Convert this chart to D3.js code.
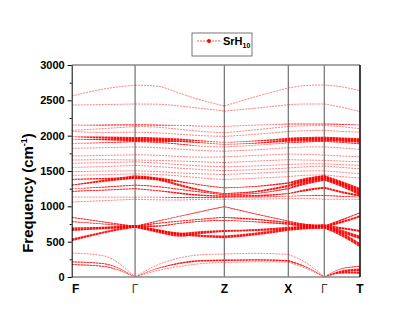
<!DOCTYPE html>
<html>
<head>
<meta charset="utf-8">
<script src="https://cdn.jsdelivr.net/npm/d3@7"></script>
<style>
  body { margin: 0; background: #fff; }
  text { font-family: Arial, 'Liberation Sans', sans-serif; }
</style>
</head>
<body>
<div id="chart"></div>
<script>
// high-symmetry path
const kLabels = ['F', 'Γ', 'Z', 'X', 'Γ', 'T'];
const kPositions = [0, 0.634, 1.527, 2.167, 2.527, 2.884];
const kSamples = [0, 0.317, 0.634, 0.857, 1.08, 1.304, 1.527, 1.847, 2.167, 2.347, 2.527, 2.706, 2.884];

const yTicks = [0, 500, 1000, 1500, 2000, 2500, 3000];
const yMinorTicks = [250, 750, 1250, 1750, 2250, 2750];

// phonon branches (cm-1), one row per branch, at kSamples
const bandFreqs = [
  [2560, 2660, 2715, 2700, 2600, 2500, 2420, 2555, 2675, 2710, 2717, 2690, 2636],
  [2434, 2440, 2448, 2445, 2420, 2385, 2349, 2390, 2438, 2448, 2448, 2400, 2340],
  [2150, 2150, 2152, 2150, 2145, 2135, 2130, 2150, 2165, 2165, 2165, 2160, 2150],
  [2075, 2100, 2130, 2120, 2090, 2060, 2040, 2085, 2130, 2140, 2145, 2125, 2100],
  [2060, 2045, 2050, 2040, 2020, 2000, 1990, 2020, 2060, 2070, 2075, 2060, 2050],
  [1985, 1975, 1960, 1955, 1945, 1925, 1905, 1925, 1955, 1962, 1965, 1955, 1945],
  [1950, 1945, 1938, 1930, 1920, 1900, 1875, 1895, 1930, 1940, 1945, 1935, 1920],
  [1891, 1900, 1915, 1905, 1880, 1850, 1840, 1865, 1900, 1912, 1920, 1905, 1885],
  [1821, 1830, 1840, 1830, 1810, 1790, 1780, 1800, 1830, 1840, 1842, 1825, 1805],
  [1712, 1720, 1730, 1722, 1705, 1695, 1700, 1720, 1740, 1735, 1725, 1712, 1700],
  [1655, 1660, 1655, 1650, 1640, 1630, 1620, 1640, 1660, 1655, 1650, 1640, 1630],
  [1609, 1618, 1630, 1612, 1590, 1570, 1560, 1572, 1592, 1600, 1602, 1590, 1580],
  [1552, 1562, 1580, 1562, 1540, 1520, 1505, 1520, 1542, 1560, 1570, 1550, 1530],
  [1490, 1498, 1502, 1492, 1472, 1460, 1450, 1470, 1490, 1500, 1502, 1482, 1462],
  [1439, 1448, 1460, 1450, 1430, 1400, 1380, 1398, 1420, 1440, 1445, 1420, 1400],
  [1300, 1360, 1415, 1385, 1300, 1225, 1180, 1210, 1290, 1370, 1415, 1330, 1240],
  [1382, 1392, 1402, 1392, 1350, 1300, 1262, 1282, 1330, 1380, 1402, 1320, 1200],
  [1250, 1272, 1300, 1280, 1240, 1200, 1162, 1182, 1250, 1330, 1382, 1290, 1170],
  [1212, 1228, 1250, 1222, 1185, 1155, 1145, 1150, 1180, 1230, 1262, 1200, 1150],
  [1132, 1130, 1130, 1130, 1122, 1122, 1130, 1132, 1142, 1150, 1152, 1142, 1130],
  [1060, 1080, 1100, 1092, 1090, 1098, 1100, 1102, 1110, 1110, 1100, 1100, 1098],
  [845, 780, 715, 790, 860, 930, 995, 890, 790, 740, 715, 810, 910],
  [783, 750, 715, 760, 790, 820, 845, 815, 770, 735, 715, 780, 860],
  [690, 702, 715, 720, 760, 790, 800, 780, 750, 725, 715, 690, 650],
  [665, 690, 715, 650, 598, 630, 650, 665, 690, 705, 715, 640, 560],
  [524, 630, 715, 660, 610, 580, 568, 610, 675, 700, 715, 600, 450],
  [340, 300, 0, 170, 270, 315, 325, 335, 320, 200, 0, 120, 150],
  [215, 190, 0, 120, 195, 230, 236, 242, 230, 140, 0, 80, 100],
  [175, 150, 0, 90, 150, 190, 205, 215, 210, 120, 0, 60, 60]
];

// marker size (projected weight) of each branch at kSamples
const bandWeights = [
  [0, 0, 0, 0, 0, 0, 0, 0, 0, 0, 0, 0, 0],
  [0, 0, 0, 0, 0, 0, 0, 0, 0, 0, 0, 0, 0],
  [0, 0.5, 0.5, 0.5, 0, 0, 0, 0, 0.5, 0.5, 0.5, 0.5, 0],
  [0, 0, 0, 0, 0, 0, 0, 0, 0, 0, 0, 0, 0],
  [0, 0, 0, 0, 0, 0, 0, 0, 0, 0, 0, 0, 0],
  [0, 1.5, 2, 2, 1.5, 0.5, 0, 0.5, 1.5, 2, 2, 2, 2],
  [0, 1, 2, 1.5, 1, 0.5, 0, 0.5, 1.5, 2, 2, 2, 2],
  [0, 0.5, 0.5, 0.5, 0.5, 0, 0, 0, 0.5, 0.5, 0.5, 0.5, 0.5],
  [0, 0, 0, 0, 0, 0, 0, 0, 0, 0, 0, 0, 0],
  [0, 0, 0, 0, 0, 0, 0, 0, 0, 0, 0, 0, 0],
  [0, 0, 0, 0, 0, 0, 0, 0, 0, 0, 0, 0, 0],
  [0, 0, 0, 0, 0, 0, 0, 0, 0, 0, 0, 0, 0],
  [0, 0, 0, 0, 0, 0, 0, 0, 0, 0, 0, 0, 0],
  [0, 0, 0, 0, 0, 0, 0, 0, 0, 0, 0, 0, 0],
  [0, 0, 0, 0, 0, 0, 0, 0, 0, 0, 0, 0, 0],
  [0.5, 1.5, 2.5, 2, 1.5, 1, 0.5, 1, 1.5, 2.5, 3, 2.5, 2],
  [0.5, 1, 1.5, 1.5, 1, 0.5, 0.5, 0.5, 1, 2.5, 3, 2.5, 2],
  [0, 0.5, 0.5, 0.5, 0.5, 0.5, 0.5, 0.5, 1, 2, 2, 2, 2],
  [0.5, 0.5, 0.5, 0.5, 1, 1, 1, 1, 0.5, 1.5, 1.5, 1.5, 1.5],
  [0, 0, 0, 0, 0.5, 0.5, 0.5, 0.5, 0, 0.5, 0.5, 0.5, 0],
  [0, 0, 0, 0, 0, 0, 0, 0, 0, 0, 0, 0, 0],
  [0.5, 0.5, 1, 0.5, 0.5, 0.5, 0.5, 0.5, 0.5, 1, 1.5, 1, 0.5],
  [0.5, 0.5, 1, 0.5, 0.5, 0.5, 0.5, 1, 1, 1.5, 1.5, 1.5, 1.5],
  [1, 1, 1.5, 1, 0.5, 0.5, 0.5, 0.5, 1, 1.5, 2, 1.5, 1.5],
  [1.5, 1.5, 2, 2.5, 3, 2, 1.5, 1.5, 2, 2.5, 3, 2.5, 2.5],
  [2, 1.5, 2, 1.5, 1.5, 1.5, 2, 2, 2, 2.5, 3, 3, 3],
  [0, 0, 0, 0, 0, 0, 0, 0, 0, 0, 0, 0.5, 0.5],
  [0.5, 0.5, 0, 0.5, 1, 1, 1, 1, 1, 0.5, 0, 1.5, 2],
  [0.5, 0.5, 0, 0, 0, 0, 0, 0, 0, 0, 0, 1, 1.5]
];

const width = 415, height = 312;

const svg = d3.select('#chart').append('svg')
  .attr('width', width)
  .attr('height', height)
  .style('background-color', '#fff');

// scales
const x = d3.scaleLinear()
  .domain([kPositions[0], kPositions[kPositions.length - 1]])
  .range([71.7, 360]);

const y = d3.scaleLinear()
  .domain([0, 3000])
  .range([277, 65]);

const size = d3.scaleLinear()
  .domain([0, 3])
  .range([0, 2.1]);

const defs = svg.append('defs');
defs.append('clipPath').attr('id', 'plot')
  .append('rect')
  .attr('x', x.range()[0]).attr('y', y.range()[1])
  .attr('width', x.range()[1] - x.range()[0])
  .attr('height', y.range()[0] - y.range()[1]);

// beaded fill for the fat bands (overlapping markers)
const beads = defs.append('pattern')
  .attr('id', 'beads')
  .attr('patternUnits', 'userSpaceOnUse')
  .attr('width', 3).attr('height', 3);
beads.append('rect').attr('width', 3).attr('height', 3).attr('fill', '#ff6666');
beads.append('rect').attr('width', 2).attr('height', 3).attr('fill', '#ff0000');

// high-symmetry lines
svg.append('g')
  .selectAll('line')
  .data(kPositions.slice(1, -1))
  .join('line')
  .attr('x1', d => x(d)).attr('x2', d => x(d))
  .attr('y1', y(0)).attr('y2', y(3000))
  .attr('stroke', '#7a7a7a')
  .attr('stroke-width', 1.3);

const line = d3.line()
  .x(d => x(d.k))
  .y(d => y(d.f))
  .curve(d3.curveMonotoneX);

const band = d3.area()
  .x(d => x(d.k))
  .y0(d => y(d.f) - size(d.w))
  .y1(d => y(d.f) + size(d.w))
  .curve(d3.curveMonotoneX);

const segments = d3.pairs(kPositions);
const plot = svg.append('g').attr('clip-path', 'url(#plot)');

bandFreqs.forEach((freqs, b) => {
  const pts = kSamples.map((k, i) => ({ k: k, f: freqs[i], w: bandWeights[b][i] }));
  segments.forEach(([k0, k1]) => {
    const seg = pts.filter(p => p.k >= k0 - 1e-6 && p.k <= k1 + 1e-6);
    plot.append('path')
      .datum(seg)
      .attr('d', line)
      .attr('fill', 'none')
      .attr('stroke', '#ff1a1a')
      .attr('stroke-opacity', 0.55)
      .attr('stroke-width', 1)
      .attr('stroke-dasharray', '2,1');
    if (d3.max(seg, p => p.w) > 0) {
      plot.append('path')
        .datum(seg)
        .attr('d', band)
        .attr('fill', 'url(#beads)')
        .attr('fill-opacity', 0.9);
    }
  });
});

// frame
svg.append('line')
  .attr('x1', x.range()[0]).attr('x2', x.range()[1])
  .attr('y1', y(3000)).attr('y2', y(3000))
  .attr('stroke', '#888').attr('stroke-width', 1.5);
svg.append('line')
  .attr('x1', x.range()[0]).attr('x2', x.range()[1])
  .attr('y1', y(0)).attr('y2', y(0))
  .attr('stroke', '#888').attr('stroke-width', 1.5);
svg.append('line')
  .attr('x1', x.range()[1]).attr('x2', x.range()[1])
  .attr('y1', y(0)).attr('y2', y(3000))
  .attr('stroke', '#000').attr('stroke-width', 1.5);

// y axis
svg.append('g')
  .attr('transform', `translate(${x.range()[0]},0)`)
  .call(d3.axisLeft(y).tickValues(yMinorTicks).tickSize(2).tickFormat(''))
  .call(g => g.select('.domain').remove());

svg.append('g')
  .attr('transform', `translate(${x.range()[0]},0)`)
  .call(d3.axisLeft(y).tickValues(yTicks).tickSize(4).tickPadding(3).tickSizeOuter(0).tickFormat(d3.format('d')))
  .call(g => g.selectAll('text')
    .attr('font-size', 11)
    .attr('font-weight', 'bold')
    .attr('fill', '#000')
    .attr('font-family', 'Arial, Liberation Sans, sans-serif'));

// x labels
svg.append('g')
  .selectAll('text')
  .data(kLabels)
  .join('text')
  .attr('x', (d, i) => x(kPositions[i]) + (i === 0 ? 4 : 0))
  .attr('y', 293)
  .attr('text-anchor', 'middle')
  .attr('font-size', 12)
  .attr('font-weight', d => d === 'Γ' ? 'normal' : 'bold')
  .attr('fill', d => d === 'Γ' ? '#444' : '#000')
  .text(d => d);

// y title
const title = svg.append('text')
  .attr('transform', 'translate(33,193) rotate(-90)')
  .attr('text-anchor', 'middle')
  .attr('font-size', 15)
  .attr('font-weight', 'bold');
title.append('tspan').text('Frequency (cm');
title.append('tspan').attr('font-size', 9).attr('dy', -6).text('-1');
title.append('tspan').attr('dy', 6).text(')');

// legend
const legend = svg.append('g');
legend.append('rect')
  .attr('x', 192).attr('y', 33)
  .attr('width', 60).attr('height', 23)
  .attr('fill', 'none')
  .attr('stroke', '#555')
  .attr('stroke-width', 0.8);
legend.append('line')
  .attr('x1', 197).attr('x2', 221)
  .attr('y1', 41).attr('y2', 41)
  .attr('stroke', '#ff1a1a')
  .attr('stroke-opacity', 0.7)
  .attr('stroke-dasharray', '2,1');
legend.append('circle')
  .attr('cx', 209).attr('cy', 41).attr('r', 2)
  .attr('fill', '#ff0000');
const ltext = legend.append('text')
  .attr('x', 223).attr('y', 45)
  .attr('font-size', 11)
  .attr('font-weight', 'bold');
ltext.append('tspan').text('SrH');
ltext.append('tspan').attr('font-size', 7).attr('dy', 3).text('10');
</script>
</body>
</html>
